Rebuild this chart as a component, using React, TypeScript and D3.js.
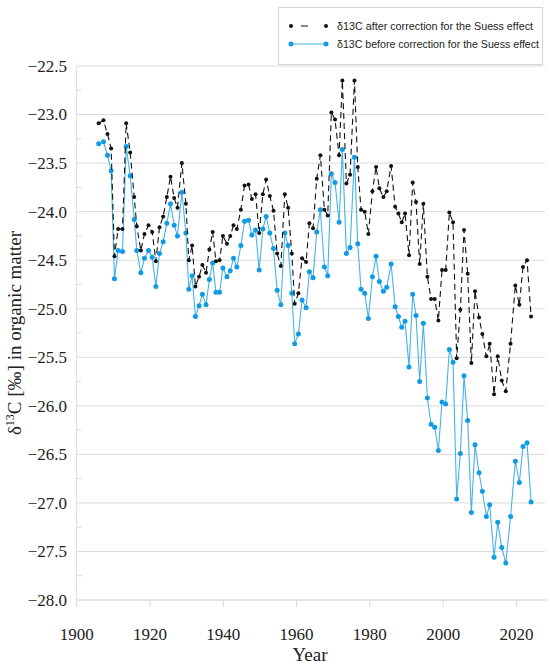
import * as d3 from 'd3';

// sample year and δ13C values
const years = [
  1906.0, 1907.3, 1908.4, 1909.4, 1910.3, 1911.3, 1912.5, 1913.5, 1914.6, 1915.7,
  1916.4, 1917.5, 1918.5, 1919.6, 1920.6, 1921.6, 1922.6, 1923.6, 1924.6, 1925.6,
  1926.6, 1927.5, 1928.7, 1929.8, 1930.6, 1931.5, 1932.4, 1933.4, 1934.3, 1935.3,
  1936.2, 1937.1, 1938.0, 1939.0, 1939.9, 1941.0, 1941.9, 1942.8, 1943.7, 1944.8,
  1945.8, 1946.9, 1947.8, 1948.8, 1949.8, 1950.8, 1951.7, 1952.7, 1953.7, 1954.7,
  1955.7, 1956.8, 1957.7, 1958.7, 1959.5, 1960.5, 1961.5, 1962.6, 1963.5, 1964.5,
  1965.5, 1966.5, 1967.6, 1968.5, 1969.5, 1970.5, 1971.6, 1972.5, 1973.6, 1974.6,
  1975.8, 1976.7, 1977.6, 1978.6, 1979.6, 1980.7, 1981.7, 1982.6, 1983.7, 1984.6,
  1985.8, 1986.9, 1987.8, 1988.7, 1989.6, 1990.7, 1991.7, 1992.6, 1993.6, 1994.6,
  1995.7, 1996.7, 1997.7, 1998.7, 1999.7, 2000.7, 2001.7, 2002.7, 2003.7, 2004.7,
  2005.7, 2006.7, 2007.7, 2008.7, 2009.8, 2010.7, 2011.8, 2012.7, 2013.9, 2014.9,
  2016.0, 2017.1, 2018.4, 2019.7, 2020.8, 2021.8, 2022.9, 2024.0,
];

const afterCorrection = [
  -23.09, -23.06, -23.2, -23.35, -24.46, -24.18, -24.18, -23.09, -23.39, -23.85,
  -24.15, -24.4, -24.23, -24.14, -24.21, -24.51, -24.16, -24.05, -23.85, -23.64,
  -23.86, -23.96, -23.5, -23.92, -24.5, -24.35, -24.77, -24.67, -24.55, -24.63,
  -24.39, -24.21, -24.51, -24.5, -24.25, -24.33, -24.25, -24.14, -24.18, -23.98,
  -23.73, -23.72, -23.87, -23.82, -24.22, -23.82, -23.67, -23.84, -23.99, -24.43,
  -24.56, -23.82, -23.96, -24.43, -24.95, -24.84, -24.48, -24.52, -24.12, -24.17,
  -23.66, -23.42, -23.98, -24.04, -22.98, -23.05, -23.42, -22.65, -23.71, -23.62,
  -22.65, -23.54, -23.98, -24.0, -24.23, -23.79, -23.54, -23.76, -23.85, -23.79,
  -23.53, -23.95, -24.02, -24.11, -24.02, -24.45, -23.7, -23.9, -24.54, -23.92,
  -24.67, -24.9, -24.9, -25.12, -24.6, -24.6, -24.01, -24.11, -25.51, -25.01,
  -24.19, -24.64, -25.56, -24.82, -25.09, -25.26, -25.49, -25.36, -25.88, -25.49,
  -25.74, -25.85, -25.36, -24.76, -24.96, -24.57, -24.5, -25.08,
];

const beforeCorrection = [
  -23.3, -23.28, -23.42, -23.58, -24.69, -24.4, -24.41, -23.33, -23.63, -24.08,
  -24.4, -24.63, -24.48, -24.4, -24.47, -24.77, -24.43, -24.31, -24.12, -23.92,
  -24.14, -24.25, -23.8, -24.22, -24.8, -24.66, -25.08, -24.97, -24.85, -24.96,
  -24.7, -24.53, -24.83, -24.83, -24.58, -24.67, -24.61, -24.48, -24.57, -24.35,
  -24.1, -24.09, -24.24, -24.19, -24.6, -24.18, -24.05, -24.22, -24.38, -24.81,
  -24.96, -24.22, -24.35, -24.84, -25.36, -25.26, -24.91, -24.99, -24.62, -24.68,
  -24.21, -23.98, -24.57, -24.66, -23.61, -23.7, -24.11, -23.36, -24.43, -24.37,
  -23.44, -24.33, -24.8, -24.84, -25.1, -24.67, -24.46, -24.72, -24.82, -24.78,
  -24.54, -24.98, -25.08, -25.19, -25.13, -25.6, -24.85, -25.07, -25.75, -25.15,
  -25.92, -26.19, -26.22, -26.46, -25.96, -25.98, -25.42, -25.55, -26.96, -26.49,
  -25.69, -26.15, -27.1, -26.4, -26.69, -26.88, -27.14, -27.02, -27.56, -27.2,
  -27.46, -27.62, -27.14, -26.57, -26.79, -26.42, -26.38, -26.99,
];

const yTicks = [-22.5, -23, -23.5, -24, -24.5, -25, -25.5, -26, -26.5, -27, -27.5, -28];
const yMinorTicks = [-22.75, -23.25, -23.75, -24.25, -24.75, -25.25, -25.75, -26.25, -26.75, -27.25, -27.75];
const xTicks = [1900, 1920, 1940, 1960, 1980, 2000, 2020];
const legendLabels = [
  'δ13C after correction for the Suess effect',
  'δ13C before correction for the Suess effect',
];

const BLUE_LINE = '#45b3e7';
const BLUE_DOT = '#0f9be6';
const GRID = '#dcdcdc';
const serif = '"Liberation Serif", "Times New Roman", serif';

const App = () => {
  const width = 550;
  const height = 665;
  const left = 76.7;
  const right = 545;
  const top = 66;
  const bottom = 600;

  const x = d3.scaleLinear().domain([1900, 2027.8]).range([left, right]);
  const y = d3.scaleLinear().domain([-22.5, -28]).range([top, bottom]);

  const after = years.map((yr, i) => [yr, afterCorrection[i]] as [number, number]);
  const before = years.map((yr, i) => [yr, beforeCorrection[i]] as [number, number]);

  const line = d3
    .line<[number, number]>()
    .x(d => x(d[0]))
    .y(d => y(d[1]));

  const fmt = (v: number) => d3.format('.1f')(v).replace('-', '\u2212');

  return (
    <svg
      width={width}
      height={height}
      style={{ position: 'absolute', left: 0, top: 0, background: '#fff' }}
    >
      {/* grid */}
      {yTicks.map(t => (
        <line key={t} x1={left} x2={right} y1={y(t)} y2={y(t)} stroke={GRID} strokeWidth={1} />
      ))}
      {yMinorTicks.map(t => (
        <line key={t} x1={left} x2={left + 5} y1={y(t)} y2={y(t)} stroke={GRID} strokeWidth={1} />
      ))}
      <line x1={left} x2={left} y1={top} y2={bottom} stroke={GRID} strokeWidth={1} />
      <line x1={left} x2={548} y1={bottom} y2={bottom} stroke={GRID} strokeWidth={1} />
      {xTicks.map(t => (
        <line key={t} x1={x(t)} x2={x(t)} y1={bottom} y2={bottom + 7} stroke={GRID} strokeWidth={1} />
      ))}

      {/* tick labels */}
      {yTicks.map(t => (
        <text
          key={t}
          x={67}
          y={y(t)}
          dy="0.35em"
          textAnchor="end"
          fontFamily={serif}
          fontSize={17}
          fill="#222"
        >
          {fmt(t)}
        </text>
      ))}
      {xTicks.map(t => (
        <text
          key={t}
          x={x(t)}
          y={640}
          textAnchor="middle"
          fontFamily={serif}
          fontSize={17}
          fill="#222"
        >
          {t}
        </text>
      ))}

      {/* axis titles */}
      <text x={310} y={661} textAnchor="middle" fontFamily={serif} fontSize={19} fill="#222">
        Year
      </text>
      <text
        transform={`translate(21,${(top + bottom) / 2}) rotate(-90)`}
        textAnchor="middle"
        fontFamily={serif}
        fontSize={19}
        fill="#222"
      >
        δ<tspan dy={-7} fontSize={12}>13</tspan>
        <tspan dy={7}>C [‰] in organic matter</tspan>
      </text>

      {/* before correction */}
      <path d={line(before) ?? ''} fill="none" stroke={BLUE_LINE} strokeWidth={1.1} />
      {before.map((d, i) => (
        <circle key={i} cx={x(d[0])} cy={y(d[1])} r={2.5} fill={BLUE_DOT} />
      ))}

      {/* after correction */}
      <path
        d={line(after) ?? ''}
        fill="none"
        stroke="#111"
        strokeWidth={1.1}
        strokeDasharray="6,4"
      />
      {after.map((d, i) => (
        <circle key={i} cx={x(d[0])} cy={y(d[1])} r={2} fill="#111" />
      ))}

      {/* legend */}
      <rect x={278.5} y={7.5} width={264} height={57} fill="#fff" stroke="#d4d4d4" />
      <line x1={291} x2={326} y1={26} y2={26} stroke="#111" strokeWidth={1.1} strokeDasharray="0,10,7,18" />
      <circle cx={291} cy={26} r={2} fill="#111" />
      <circle cx={326} cy={26} r={2} fill="#111" />
      <line x1={291} x2={326} y1={44} y2={44} stroke={BLUE_LINE} strokeWidth={1.1} />
      <circle cx={291} cy={44} r={2.5} fill={BLUE_DOT} />
      <circle cx={326} cy={44} r={2.5} fill={BLUE_DOT} />
      {legendLabels.map((l, i) => (
        <text
          key={l}
          x={337}
          y={26 + i * 18}
          dy="0.35em"
          fontFamily='"Liberation Sans", Arial, sans-serif'
          fontSize={10.5}
          fill="#222"
          textLength={i === 0 ? 196 : 202}
          lengthAdjust="spacingAndGlyphs"
        >
          {l}
        </text>
      ))}
    </svg>
  );
};

export default App;
